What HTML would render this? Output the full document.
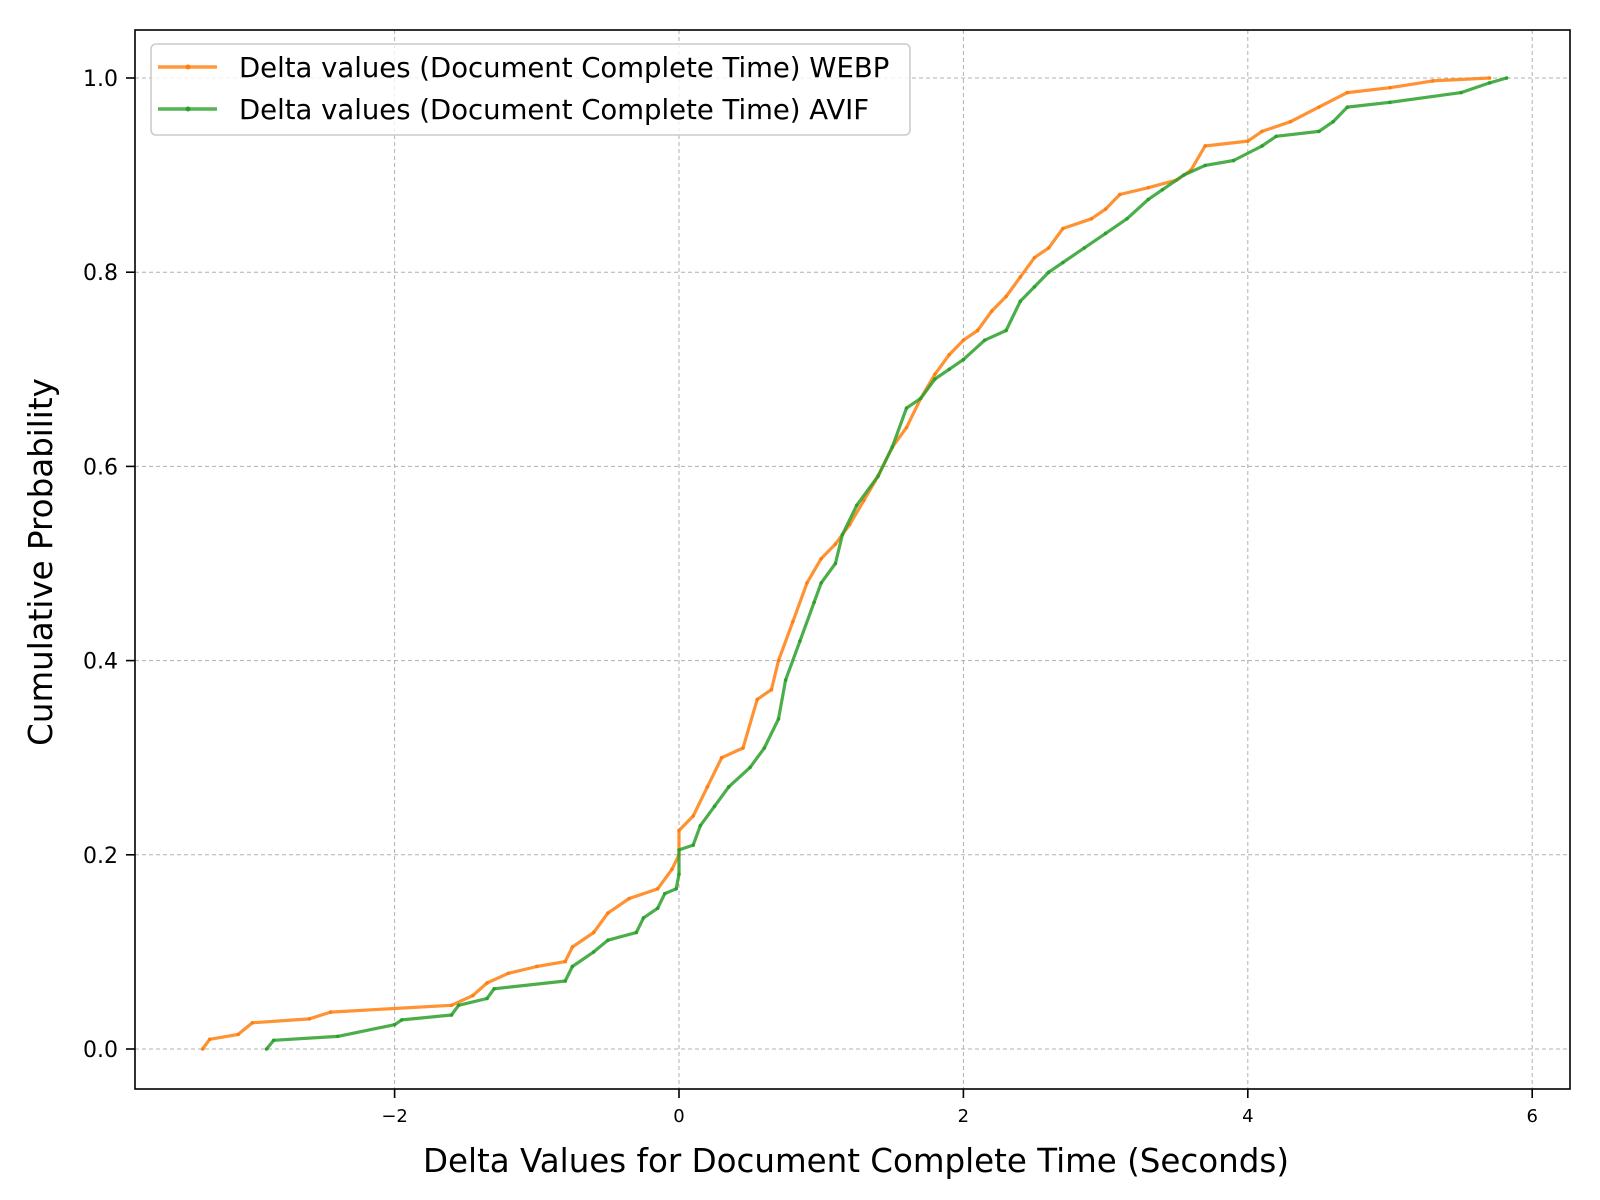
<!DOCTYPE html>
<html><head><meta charset="utf-8"><style>
html,body{margin:0;padding:0;background:#fff;}
svg{display:block;font-family:"DejaVu Sans","Liberation Sans",sans-serif;}
</style></head><body>
<svg id="chart" width="1600" height="1200" viewBox="0 0 1600 1200" xmlns="http://www.w3.org/2000/svg">
<rect width="1600" height="1200" fill="#fff"/>
<g id="grid"></g>
<g id="series"></g>
<rect x="135" y="30" width="1435" height="1059" fill="none" stroke="#000" stroke-width="1.6"/>
<g id="ticks"></g>
<text x="856" y="1172" font-size="32.5" text-anchor="middle">Delta Values for Document Complete Time (Seconds)</text>
<text x="0" y="0" font-size="32.5" text-anchor="middle" transform="translate(52,562) rotate(-90)">Cumulative Probability</text>
<g>
<rect x="151" y="44" width="759" height="91" rx="5" fill="#fff" fill-opacity="0.8" stroke="#ccc" stroke-width="1.6"/>
<line x1="158" y1="67" x2="217" y2="67" stroke="#ff7f0e" stroke-opacity="0.8" stroke-width="3.5"/>
<circle cx="188" cy="67" r="2.5" fill="#ff7f0e"/>
<text x="239" y="77" font-size="27.5">Delta values (Document Complete Time) WEBP</text>
<line x1="158" y1="109" x2="217" y2="109" stroke="#2ca02c" stroke-opacity="0.8" stroke-width="3.5"/>
<circle cx="188" cy="109" r="2.5" fill="#2ca02c"/>
<text x="239" y="119" font-size="27.5">Delta values (Document Complete Time) AVIF</text>
</g>
</svg>
<script>
const xTicks=[-2,0,2,4,6];
const xTickLabels=["\u22122","0","2","4","6"];
const yTicks=[0,0.2,0.4,0.6,0.8,1.0];
const yTickLabels=["0.0","0.2","0.4","0.6","0.8","1.0"];
const webpX=[-3.35,-3.3,-3.1,-3.0,-2.6,-2.45,-1.6,-1.45,-1.35,-1.2,-1.0,-0.8,-0.75,-0.6,-0.5,-0.35,-0.15,-0.05,0.0,0.0,0.1,0.2,0.3,0.45,0.55,0.65,0.7,0.8,0.9,1.0,1.1,1.2,1.3,1.4,1.5,1.6,1.7,1.8,1.9,2.0,2.1,2.2,2.3,2.4,2.5,2.6,2.7,2.9,3.0,3.1,3.3,3.5,3.6,3.7,4.0,4.1,4.3,4.5,4.7,5.0,5.3,5.7];
const webpY=[0.0,0.01,0.015,0.027,0.031,0.038,0.045,0.055,0.068,0.078,0.085,0.09,0.105,0.12,0.14,0.155,0.165,0.185,0.2,0.225,0.24,0.27,0.3,0.31,0.36,0.37,0.4,0.44,0.48,0.505,0.52,0.54,0.565,0.59,0.62,0.64,0.67,0.695,0.715,0.73,0.74,0.76,0.775,0.795,0.815,0.825,0.845,0.855,0.865,0.88,0.887,0.895,0.905,0.93,0.935,0.945,0.955,0.97,0.985,0.99,0.997,1.0];
const avifX=[-2.9,-2.85,-2.4,-2.0,-1.95,-1.6,-1.55,-1.35,-1.3,-0.8,-0.75,-0.6,-0.5,-0.3,-0.25,-0.15,-0.1,-0.02,0.0,0.0,0.1,0.15,0.25,0.35,0.5,0.6,0.7,0.75,0.85,0.95,1.0,1.1,1.15,1.25,1.4,1.5,1.6,1.7,1.8,1.9,2.0,2.15,2.3,2.4,2.5,2.6,2.7,2.85,3.0,3.15,3.3,3.4,3.55,3.7,3.9,4.1,4.2,4.5,4.6,4.7,5.0,5.5,5.7,5.82];
const avifY=[0.0,0.009,0.013,0.025,0.03,0.035,0.045,0.052,0.062,0.07,0.085,0.1,0.112,0.12,0.135,0.145,0.16,0.165,0.18,0.205,0.21,0.23,0.25,0.27,0.29,0.31,0.34,0.38,0.42,0.46,0.48,0.5,0.53,0.56,0.59,0.62,0.66,0.67,0.69,0.7,0.71,0.73,0.74,0.77,0.785,0.8,0.81,0.825,0.84,0.855,0.875,0.885,0.9,0.91,0.915,0.93,0.94,0.945,0.955,0.97,0.975,0.985,0.995,1.0];

const NS="http://www.w3.org/2000/svg";
function sx(v){return 679+v*142.2;}
function sy(v){return 1049-v*971;}
function mk(tag,attrs,parent){const e=document.createElementNS(NS,tag);for(const k in attrs)e.setAttribute(k,attrs[k]);parent.appendChild(e);return e;}
const grid=document.getElementById('grid'),ticks=document.getElementById('ticks'),series=document.getElementById('series');
xTicks.forEach((t,i)=>{
  const g=mk('line',{x1:sx(t),x2:sx(t),y1:30,y2:1089,stroke:'#b0b0b0','stroke-width':1,'stroke-dasharray':'4,3'},grid);
  
  
  mk('line',{x1:sx(t),x2:sx(t),y1:1089,y2:1098,stroke:'#000','stroke-width':1.6},ticks);
  const l=mk('text',{x:sx(t),y:1122,'font-size':18,'text-anchor':'middle'},ticks);
  l.textContent=xTickLabels[i];
  
  
});
yTicks.forEach((t,i)=>{
  const g=mk('line',{x1:135,x2:1570,y1:sy(t),y2:sy(t),stroke:'#b0b0b0','stroke-width':1,'stroke-dasharray':'4,3'},grid);
  
  
  mk('line',{x1:126,x2:135,y1:sy(t),y2:sy(t),stroke:'#000','stroke-width':1.6},ticks);
  const l=mk('text',{x:118,y:sy(t)+8,'font-size':22,'text-anchor':'end'},ticks);
  l.textContent=yTickLabels[i];
  
  
});
function drawSeries(xs,ys,color,name){
  const pts=xs.map((x,i)=>sx(x).toFixed(1)+','+sy(ys[i]).toFixed(1)).join(' ');
  const p=mk('polyline',{points:pts,fill:'none',stroke:color,'stroke-opacity':0.85,'stroke-width':3.2,'stroke-linejoin':'round'},series);
  
  
  xs.forEach((x,i)=>{
    const c=mk('circle',{cx:sx(x),cy:sy(ys[i]),r:1.8,fill:color},series);
    
    
  });
}
drawSeries(webpX,webpY,'#ff7f0e','webp');
drawSeries(avifX,avifY,'#2ca02c','avif');
</script>
</body></html>
